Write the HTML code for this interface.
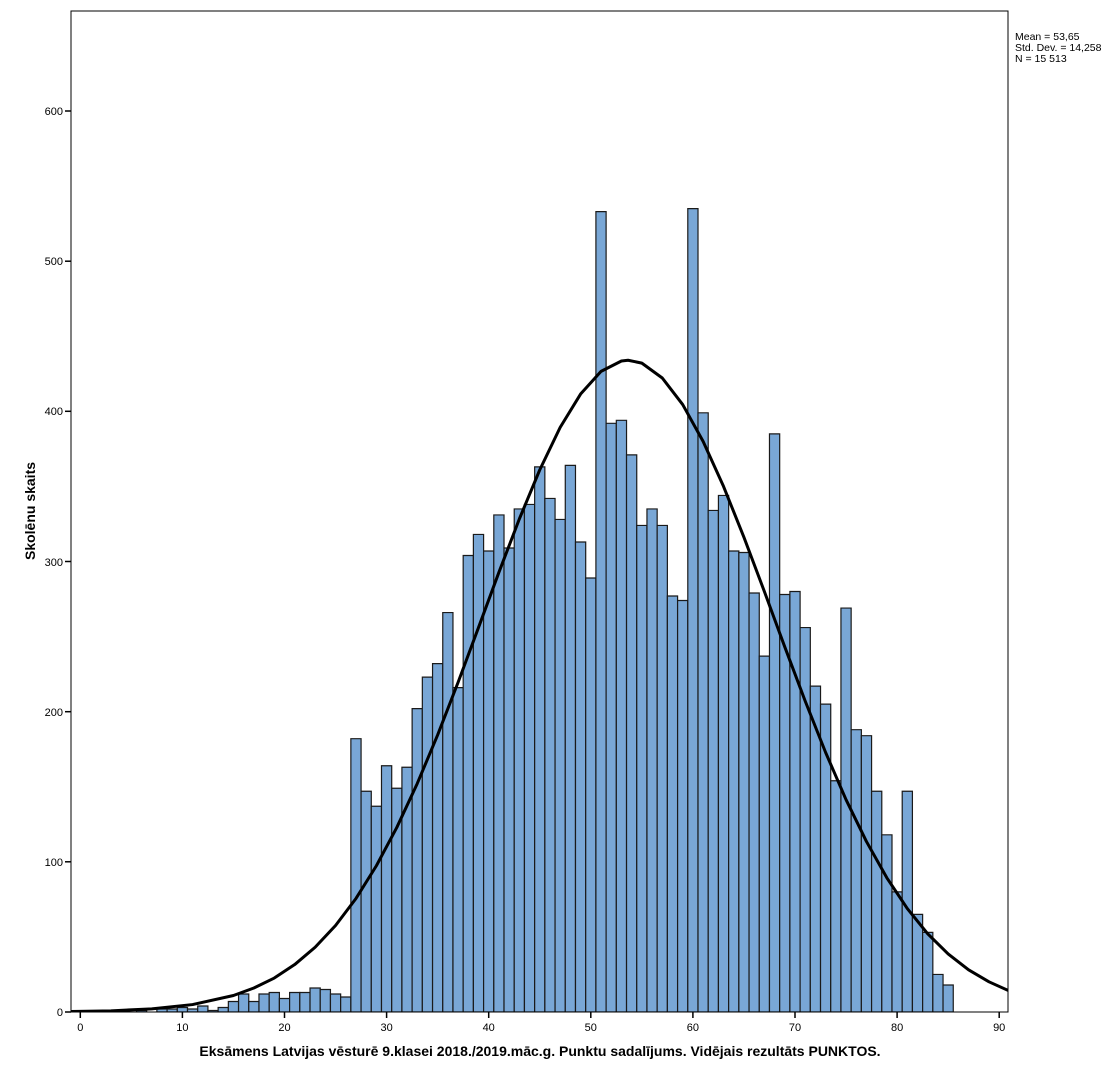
<!DOCTYPE html>
<html><head><meta charset="utf-8"><style>
body{margin:0;background:#fff;}
svg{display:block;font-family:"Liberation Sans",Arial,sans-serif;}
</style></head><body>
<svg width="1120" height="1076" viewBox="0 0 1120 1076" xmlns="http://www.w3.org/2000/svg">
<rect x="0" y="0" width="1120" height="1076" fill="#fff"/>
<defs><clipPath id="c"><rect x="71" y="11" width="937" height="1001"/></clipPath></defs>
<g clip-path="url(#c)">
<g transform="translate(80.3,1012) scale(10.21,-1.5017)" fill="#79a7d6" stroke="#1a1a1a" stroke-width="1.2">
<g vector-effect="non-scaling-stroke">
<rect x="5.5" y="0" width="1" height="1" vector-effect="non-scaling-stroke"/>
<rect x="7.5" y="0" width="1" height="2" vector-effect="non-scaling-stroke"/>
<rect x="8.5" y="0" width="1" height="2" vector-effect="non-scaling-stroke"/>
<rect x="9.5" y="0" width="1" height="3" vector-effect="non-scaling-stroke"/>
<rect x="10.5" y="0" width="1" height="2" vector-effect="non-scaling-stroke"/>
<rect x="11.5" y="0" width="1" height="4" vector-effect="non-scaling-stroke"/>
<rect x="12.5" y="0" width="1" height="1" vector-effect="non-scaling-stroke"/>
<rect x="13.5" y="0" width="1" height="3" vector-effect="non-scaling-stroke"/>
<rect x="14.5" y="0" width="1" height="7" vector-effect="non-scaling-stroke"/>
<rect x="15.5" y="0" width="1" height="12" vector-effect="non-scaling-stroke"/>
<rect x="16.5" y="0" width="1" height="7" vector-effect="non-scaling-stroke"/>
<rect x="17.5" y="0" width="1" height="12" vector-effect="non-scaling-stroke"/>
<rect x="18.5" y="0" width="1" height="13" vector-effect="non-scaling-stroke"/>
<rect x="19.5" y="0" width="1" height="9" vector-effect="non-scaling-stroke"/>
<rect x="20.5" y="0" width="1" height="13" vector-effect="non-scaling-stroke"/>
<rect x="21.5" y="0" width="1" height="13" vector-effect="non-scaling-stroke"/>
<rect x="22.5" y="0" width="1" height="16" vector-effect="non-scaling-stroke"/>
<rect x="23.5" y="0" width="1" height="15" vector-effect="non-scaling-stroke"/>
<rect x="24.5" y="0" width="1" height="12" vector-effect="non-scaling-stroke"/>
<rect x="25.5" y="0" width="1" height="10" vector-effect="non-scaling-stroke"/>
<rect x="26.5" y="0" width="1" height="182" vector-effect="non-scaling-stroke"/>
<rect x="27.5" y="0" width="1" height="147" vector-effect="non-scaling-stroke"/>
<rect x="28.5" y="0" width="1" height="137" vector-effect="non-scaling-stroke"/>
<rect x="29.5" y="0" width="1" height="164" vector-effect="non-scaling-stroke"/>
<rect x="30.5" y="0" width="1" height="149" vector-effect="non-scaling-stroke"/>
<rect x="31.5" y="0" width="1" height="163" vector-effect="non-scaling-stroke"/>
<rect x="32.5" y="0" width="1" height="202" vector-effect="non-scaling-stroke"/>
<rect x="33.5" y="0" width="1" height="223" vector-effect="non-scaling-stroke"/>
<rect x="34.5" y="0" width="1" height="232" vector-effect="non-scaling-stroke"/>
<rect x="35.5" y="0" width="1" height="266" vector-effect="non-scaling-stroke"/>
<rect x="36.5" y="0" width="1" height="216" vector-effect="non-scaling-stroke"/>
<rect x="37.5" y="0" width="1" height="304" vector-effect="non-scaling-stroke"/>
<rect x="38.5" y="0" width="1" height="318" vector-effect="non-scaling-stroke"/>
<rect x="39.5" y="0" width="1" height="307" vector-effect="non-scaling-stroke"/>
<rect x="40.5" y="0" width="1" height="331" vector-effect="non-scaling-stroke"/>
<rect x="41.5" y="0" width="1" height="309" vector-effect="non-scaling-stroke"/>
<rect x="42.5" y="0" width="1" height="335" vector-effect="non-scaling-stroke"/>
<rect x="43.5" y="0" width="1" height="338" vector-effect="non-scaling-stroke"/>
<rect x="44.5" y="0" width="1" height="363" vector-effect="non-scaling-stroke"/>
<rect x="45.5" y="0" width="1" height="342" vector-effect="non-scaling-stroke"/>
<rect x="46.5" y="0" width="1" height="328" vector-effect="non-scaling-stroke"/>
<rect x="47.5" y="0" width="1" height="364" vector-effect="non-scaling-stroke"/>
<rect x="48.5" y="0" width="1" height="313" vector-effect="non-scaling-stroke"/>
<rect x="49.5" y="0" width="1" height="289" vector-effect="non-scaling-stroke"/>
<rect x="50.5" y="0" width="1" height="533" vector-effect="non-scaling-stroke"/>
<rect x="51.5" y="0" width="1" height="392" vector-effect="non-scaling-stroke"/>
<rect x="52.5" y="0" width="1" height="394" vector-effect="non-scaling-stroke"/>
<rect x="53.5" y="0" width="1" height="371" vector-effect="non-scaling-stroke"/>
<rect x="54.5" y="0" width="1" height="324" vector-effect="non-scaling-stroke"/>
<rect x="55.5" y="0" width="1" height="335" vector-effect="non-scaling-stroke"/>
<rect x="56.5" y="0" width="1" height="324" vector-effect="non-scaling-stroke"/>
<rect x="57.5" y="0" width="1" height="277" vector-effect="non-scaling-stroke"/>
<rect x="58.5" y="0" width="1" height="274" vector-effect="non-scaling-stroke"/>
<rect x="59.5" y="0" width="1" height="535" vector-effect="non-scaling-stroke"/>
<rect x="60.5" y="0" width="1" height="399" vector-effect="non-scaling-stroke"/>
<rect x="61.5" y="0" width="1" height="334" vector-effect="non-scaling-stroke"/>
<rect x="62.5" y="0" width="1" height="344" vector-effect="non-scaling-stroke"/>
<rect x="63.5" y="0" width="1" height="307" vector-effect="non-scaling-stroke"/>
<rect x="64.5" y="0" width="1" height="306" vector-effect="non-scaling-stroke"/>
<rect x="65.5" y="0" width="1" height="279" vector-effect="non-scaling-stroke"/>
<rect x="66.5" y="0" width="1" height="237" vector-effect="non-scaling-stroke"/>
<rect x="67.5" y="0" width="1" height="385" vector-effect="non-scaling-stroke"/>
<rect x="68.5" y="0" width="1" height="278" vector-effect="non-scaling-stroke"/>
<rect x="69.5" y="0" width="1" height="280" vector-effect="non-scaling-stroke"/>
<rect x="70.5" y="0" width="1" height="256" vector-effect="non-scaling-stroke"/>
<rect x="71.5" y="0" width="1" height="217" vector-effect="non-scaling-stroke"/>
<rect x="72.5" y="0" width="1" height="205" vector-effect="non-scaling-stroke"/>
<rect x="73.5" y="0" width="1" height="154" vector-effect="non-scaling-stroke"/>
<rect x="74.5" y="0" width="1" height="269" vector-effect="non-scaling-stroke"/>
<rect x="75.5" y="0" width="1" height="188" vector-effect="non-scaling-stroke"/>
<rect x="76.5" y="0" width="1" height="184" vector-effect="non-scaling-stroke"/>
<rect x="77.5" y="0" width="1" height="147" vector-effect="non-scaling-stroke"/>
<rect x="78.5" y="0" width="1" height="118" vector-effect="non-scaling-stroke"/>
<rect x="79.5" y="0" width="1" height="80" vector-effect="non-scaling-stroke"/>
<rect x="80.5" y="0" width="1" height="147" vector-effect="non-scaling-stroke"/>
<rect x="81.5" y="0" width="1" height="65" vector-effect="non-scaling-stroke"/>
<rect x="82.5" y="0" width="1" height="53" vector-effect="non-scaling-stroke"/>
<rect x="83.5" y="0" width="1" height="25" vector-effect="non-scaling-stroke"/>
<rect x="84.5" y="0" width="1" height="18" vector-effect="non-scaling-stroke"/>
</g>
<polyline fill="none" stroke="#000" stroke-width="3" vector-effect="non-scaling-stroke" stroke-linejoin="round" points="-1,0.28 3,0.79 7,2.06 11,4.95 15,11 17,16 19,22.6 21,31.6 23,43.1 25,57.6 27,75.6 29,97.4 31,122.9 33,152.1 35,184.5 37,219.5 39,256 41,292.8 43,328.3 45,361 47,389.3 49,411.5 51,426.6 53,433.5 53.65,434 55,432.1 57,422.2 59,404.5 61,380 63,350 65,316.1 67,280 69,243.1 71,207 73,172.8 75,141.4 77,113.5 79,89.3 81,68.9 83,52.1 85,38.7 87,28.1 89,20.1 91,14"/>
</g>
</g>
<rect x="71" y="11" width="937" height="1001" fill="none" stroke="#000" stroke-width="1"/>
<g stroke="#000" stroke-width="1.5">
<line x1="65" y1="1012" x2="71" y2="1012"/>
<line x1="65" y1="861.8" x2="71" y2="861.8"/>
<line x1="65" y1="711.7" x2="71" y2="711.7"/>
<line x1="65" y1="561.5" x2="71" y2="561.5"/>
<line x1="65" y1="411.3" x2="71" y2="411.3"/>
<line x1="65" y1="261.2" x2="71" y2="261.2"/>
<line x1="65" y1="111" x2="71" y2="111"/>
<line x1="80.3" y1="1012" x2="80.3" y2="1018"/>
<line x1="182.4" y1="1012" x2="182.4" y2="1018"/>
<line x1="284.5" y1="1012" x2="284.5" y2="1018"/>
<line x1="386.6" y1="1012" x2="386.6" y2="1018"/>
<line x1="488.7" y1="1012" x2="488.7" y2="1018"/>
<line x1="590.8" y1="1012" x2="590.8" y2="1018"/>
<line x1="692.9" y1="1012" x2="692.9" y2="1018"/>
<line x1="795" y1="1012" x2="795" y2="1018"/>
<line x1="897.1" y1="1012" x2="897.1" y2="1018"/>
<line x1="999.2" y1="1012" x2="999.2" y2="1018"/>
</g>
<g font-size="11" fill="#000" text-anchor="end">
<text x="63" y="1016">0</text>
<text x="63" y="866">100</text>
<text x="63" y="716">200</text>
<text x="63" y="566">300</text>
<text x="63" y="415">400</text>
<text x="63" y="265">500</text>
<text x="63" y="115">600</text>
</g>
<g font-size="11" fill="#000" text-anchor="middle">
<text x="80.3" y="1031">0</text>
<text x="182.4" y="1031">10</text>
<text x="284.5" y="1031">20</text>
<text x="386.6" y="1031">30</text>
<text x="488.7" y="1031">40</text>
<text x="590.8" y="1031">50</text>
<text x="692.9" y="1031">60</text>
<text x="795" y="1031">70</text>
<text x="897.1" y="1031">80</text>
<text x="999.2" y="1031">90</text>
</g>
<g font-size="10.5" fill="#000">
<text x="1015" y="40">Mean = 53,65</text>
<text x="1015" y="51">Std. Dev. = 14,258</text>
<text x="1015" y="62">N = 15 513</text>
</g>
<text x="540" y="1056" font-size="14" font-weight="bold" text-anchor="middle">Eksāmens Latvijas vēsturē 9.klasei 2018./2019.māc.g. Punktu sadalījums. Vidējais rezultāts PUNKTOS.</text>
<text transform="translate(35,511) rotate(-90)" font-size="14" font-weight="bold" text-anchor="middle">Skolēnu skaits</text>
</svg>
</body></html>
